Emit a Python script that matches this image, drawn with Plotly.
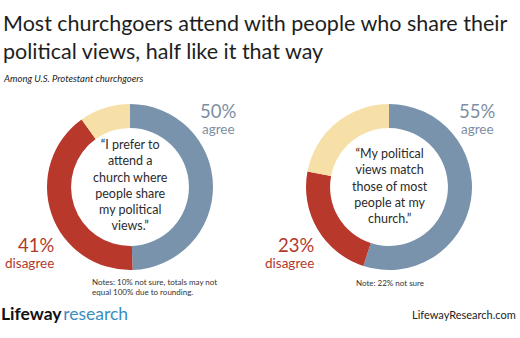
import plotly.graph_objects as go

W, H = 520, 338

# Data
categories = ["agree", "disagree", "not sure"]
prefer_values = [50, 41, 10]
match_values = [55, 23, 22]
prefer_question = "“I prefer to<br>attend a<br>church where<br>people share<br>my political<br>views.”"
match_question = "“My political<br>views match<br>those of most<br>people at my<br>church.”"
prefer_note = "Notes: 10% not sure, totals may not<br>equal 100% due to rounding."
match_note = "Note: 22% not sure"
title_text = "Most churchgoers attend with people who share their<br>political views, half like it that way"
subtitle_text = "Among U.S. Protestant churchgoers"

colors = ["#7993AC", "#B8392B", "#F7E0A8"]
agree_col = "#7D8FA2"
disagree_col = "#B23A2D"
FONT = "Lato"


def px(x):
    return x / W


def py(y):
    return 1 - y / H


def dom(cx, cy, r):
    return dict(x=[px(cx - r), px(cx + r)], y=[py(cy + r), py(cy - r)])


R = 83
fig = go.Figure()
for vals, cx in [(prefer_values, 130), (match_values, 389)]:
    fig.add_trace(go.Pie(
        labels=categories, values=vals, hole=0.71, sort=False,
        direction="clockwise", rotation=0, textinfo="none",
        marker=dict(colors=colors, line=dict(width=0)),
        domain=dom(cx, 187, R), showlegend=False, hoverinfo="label+value",
    ))

ann = []


def add(text, x, y, size, color="#222", xanchor="center", yanchor="middle",
        align="center", family=FONT, **kw):
    ann.append(dict(text=text, x=px(x), y=py(y), xref="paper", yref="paper",
                    showarrow=False, xanchor=xanchor, yanchor=yanchor,
                    align=align, font=dict(size=size, color=color, family=family), **kw))


add(title_text, 1, 37, 21.5, "#1e1e1e", xanchor="left", align="left")
add("<i>" + subtitle_text + "</i>", 1, 78, 9.5, "#222", xanchor="left", align="left")

# center quotes
add(prefer_question, 130, 185, 12.5, "#2b2b2b")
add(match_question, 390, 186, 12.5, "#2b2b2b")

# percentage labels
add(f"{prefer_values[0]}%", 238, 111, 18.5, agree_col, xanchor="right")
add(categories[0], 237, 129, 13.5, agree_col, xanchor="right")
add(f"{match_values[0]}%", 497, 111, 18.5, agree_col, xanchor="right")
add(categories[0], 496, 129, 13.5, agree_col, xanchor="right")
add(f"{prefer_values[1]}%", 56, 245, 18.5, disagree_col, xanchor="right")
add(categories[1], 56, 263, 13.5, disagree_col, xanchor="right")
add(f"{match_values[1]}%", 316, 245, 18.5, disagree_col, xanchor="right")
add(categories[1], 316, 263, 13.5, disagree_col, xanchor="right")

# notes
add(prefer_note, 90, 287, 8, "#333", xanchor="left", align="left")
add(match_note, 354, 283, 8, "#333", xanchor="left", align="left")

# footer
add("<b>Lifeway</b><span style='font-size:6px'> </span><span style='color:#3A8DC0'>research</span>",
    -1, 313, 17.5, "#111", xanchor="left", align="left")
add("LifewayResearch.com", 518, 314, 11, "#222", xanchor="right")

fig.update_layout(
    width=W, height=H, margin=dict(l=0, r=0, t=0, b=0),
    paper_bgcolor="white", plot_bgcolor="white",
    annotations=ann,
)
fig.write_html("out.html")
